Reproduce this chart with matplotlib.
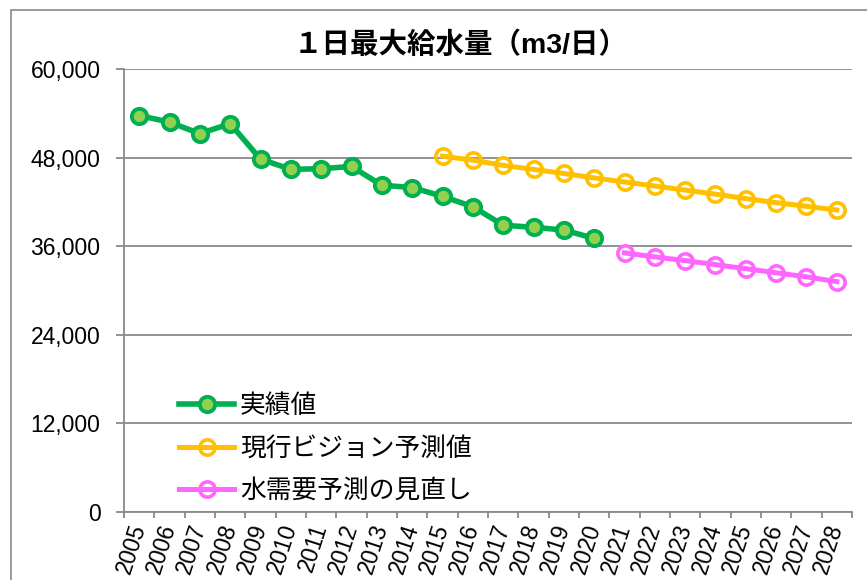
import matplotlib
matplotlib.use("Agg")
import matplotlib.pyplot as plt
from matplotlib.patches import Rectangle
import numpy as np

plt.rcParams['font.family'] = ['Liberation Sans', 'Noto Sans CJK JP']

years = [str(y) for y in range(2005, 2029)]

# 実績値 (2005-2020)
actual = [53700, 52800, 51250, 52600, 47800, 46400, 46500, 46800,
          44250, 43950, 42750, 41350, 38850, 38550, 38200, 37050]
# 現行ビジョン予測値 (2015-2028)
vision = [48200, 47650, 46950, 46400, 45850, 45250, 44700, 44150,
          43600, 43050, 42450, 41900, 41400, 40900]
# 水需要予測の見直し (2021-2028)
revised = [35100, 34550, 34050, 33500, 32950, 32400, 31850, 31200]

yticks = [0, 12000, 24000, 36000, 48000, 60000]
title = "１日最大給水量（m3/日）"
labels = ["実績値", "現行ビジョン予測値", "水需要予測の見直し"]

W, H = 867, 580
fig = plt.figure(figsize=(W / 100, H / 100), dpi=100)
ax = fig.add_axes([124 / W, 1 - 512 / H, (852 - 124) / W, (512 - 69) / H])

grid_c = "#898989"
green, green_face = "#00B050", "#92D050"
orange = "#FFC000"
pink = "#FF66FF"

x_all = np.arange(len(years))
x_act = x_all[:len(actual)]
x_vis = x_all[years.index("2015"):years.index("2015") + len(vision)]
x_rev = x_all[years.index("2021"):years.index("2021") + len(revised)]

ax.plot(x_act, actual, color=green, lw=4, marker="o", ms=11,
        mfc=green_face, mec=green, mew=2.8, label=labels[0], zorder=3)
ax.plot(x_vis, vision, color=orange, lw=3.6, marker="o", ms=11,
        mfc="none", mec=orange, mew=2.6, label=labels[1], zorder=3)
ax.plot(x_rev, revised, color=pink, lw=3.6, marker="o", ms=11,
        mfc="none", mec=pink, mew=2.6, label=labels[2], zorder=3)

ax.set_xlim(-0.5, len(years) - 0.5)
ax.set_ylim(0, 60000)

ax.set_yticks(yticks)
ax.set_yticklabels([f"{v:,}" for v in yticks])
ax.yaxis.grid(True, color=grid_c, lw=1.3)
ax.set_axisbelow(True)

ax.set_xticks(x_all)
ax.set_xticklabels(years)
ax.set_xticks(np.arange(-0.5, len(years)), minor=True)
ax.tick_params(axis="x", which="major", length=0, pad=9, labelsize=16.5)
ax.tick_params(axis="x", which="minor", length=4.5, width=1.3, color=grid_c)
ax.tick_params(axis="y", length=6, width=1.3, color=grid_c, pad=11, labelsize=16.5)
plt.setp(ax.get_xticklabels(), rotation=72, ha="right", va="center",
         rotation_mode="anchor")

for side in ("top", "right"):
    ax.spines[side].set_visible(False)
for side in ("left", "bottom"):
    ax.spines[side].set_color(grid_c)
    ax.spines[side].set_linewidth(1.3)

fig.text(461 / W, 1 - 45 / H, title, ha="center", va="center",
         fontsize=20.5, fontweight="bold")

leg = ax.legend(loc="upper left", bbox_to_anchor=(179 / W, 1 - 394 / H),
                bbox_transform=fig.transFigure, frameon=False,
                fontsize=18.5, handlelength=2.15, handletextpad=0.22,
                labelspacing=0.72, borderpad=0, borderaxespad=0)

# outer border of the chart area
fig.patches.append(Rectangle((11 / W, -0.1), 1.2, 1 - 10 / H + 0.1,
                             transform=fig.transFigure, fill=False,
                             edgecolor=grid_c, lw=1.2))

fig.savefig("out.png", dpi=100)
